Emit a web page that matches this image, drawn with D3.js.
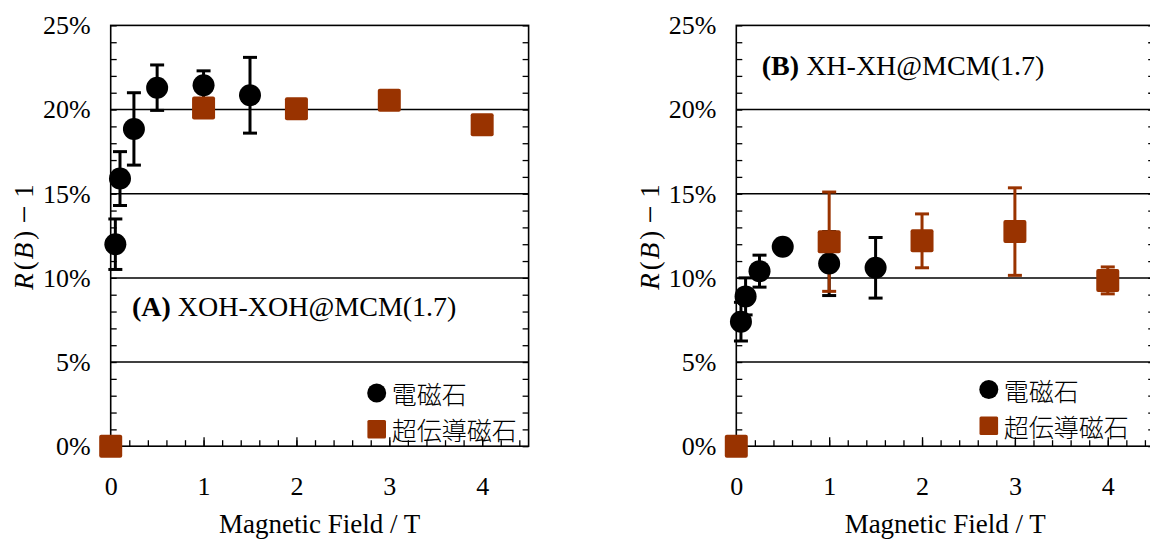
<!DOCTYPE html>
<html>
<head>
<meta charset="utf-8">
<script src="https://cdn.jsdelivr.net/npm/d3@7"></script>
<style>
  html, body { margin: 0; padding: 0; background: #fff; }
  svg { display: block; }
  .serif { font-family: "Liberation Serif", "Times New Roman", serif; }
  .cjk { font-family: "Noto Sans CJK JP", "Noto Sans CJK SC", sans-serif; font-weight: 300; }
</style>
</head>
<body>
<svg id="chart" width="1150" height="539"></svg>
<script>
// Magnetic field values (T) for each magnet type
const electroField = [0.05, 0.1, 0.25, 0.5, 1, 1.5];
const superField   = [0, 1, 2, 3, 4];

// Panel A: XOH-XOH@MCM(1.7) — R(B) − 1 in percent, with error half-widths
const aElectroValue = [12.0, 15.9, 18.85, 21.3, 21.45, 20.85];
const aElectroError = [1.5, 1.6, 2.15, 1.35, 0.85, 2.25];
const aSuperValue   = [0, 20.1, 20.05, 20.55, 19.1];
const aSuperError   = [0, 0, 0, 0, 0];

// Panel B: XH-XH@MCM(1.7)
const bElectroValue = [7.4, 8.9, 10.4, 11.85, 10.85, 10.6];
const bElectroError = [1.15, 1.1, 0.95, 0, 1.9, 1.8];
const bSuperValue   = [0, 12.15, 12.2, 12.75, 9.85];
const bSuperError   = [0, 2.95, 1.6, 2.6, 0.8];

// Axis ticks and labels
const fieldTicks = [0, 1, 2, 3, 4];
const percentTicks = [0, 5, 10, 15, 20, 25];
const gridValues = [5, 10, 15, 20];
const panelTags = ["(A)", "(B)"];
const panelNames = ["XOH-XOH@MCM(1.7)", "XH-XH@MCM(1.7)"];
const legendNames = ["電磁石", "超伝導磁石"];
const xTitle = "Magnetic Field / T";

const electroColor = "#000000";
const superColor = "#993300";

const svg = d3.select("#chart");

const plotW = 417.9, plotH = 420.8;
const x = d3.scaleLinear().domain([0, 4.5]).range([0, plotW]);
const y = d3.scaleLinear().domain([0, 25]).range([plotH, 0]);

function zip(xs, vs, es) {
  return xs.map((b, i) => ({ b, v: vs[i], e: es[i] }));
}

const panels = [
  {
    left: 110.7, top: 25.4,
    electro: zip(electroField, aElectroValue, aElectroError),
    superc: zip(superField, aSuperValue, aSuperError),
    tag: panelTags[0], name: panelNames[0],
    note: [21.3, 290.6],
    legend: [266, 367.6],
    yTitleX: -87.2
  },
  {
    left: 736.3, top: 25.4,
    electro: zip(electroField, bElectroValue, bElectroError),
    superc: zip(superField, bSuperValue, bSuperError),
    tag: panelTags[1], name: panelNames[1],
    note: [25.5, 49.6],
    legend: [252.5, 364.1],
    yTitleX: -86.3
  }
];

function drawPanel(p) {
  const g = svg.append("g").attr("transform", `translate(${p.left},${p.top})`);

  // horizontal grid lines
  g.append("g").selectAll("line").data(gridValues).join("line")
    .attr("x1", 0).attr("x2", plotW)
    .attr("y1", d => y(d)).attr("y2", d => y(d))
    .attr("stroke", "#000").attr("stroke-width", 1.5);

  // frame: top, right, bottom, left
  g.append("rect").attr("x", 0).attr("y", 0).attr("width", plotW).attr("height", plotH)
    .attr("fill", "none").attr("stroke", "#000").attr("stroke-width", 1.6);

  // minor ticks pointing inwards
  const minorY = d3.range(0, 25.01, 1);
  g.append("g").call(d3.axisRight(y).tickValues(minorY).tickSize(6).tickFormat(""))
    .call(a => a.select(".domain").remove())
    .selectAll("line").attr("stroke-width", 1.3);
  g.append("g").attr("transform", `translate(${plotW},0)`)
    .call(d3.axisLeft(y).tickValues(minorY).tickSize(6).tickFormat(""))
    .call(a => a.select(".domain").remove())
    .selectAll("line").attr("stroke-width", 1.3);
  g.append("g").attr("transform", `translate(0,${plotH})`)
    .call(d3.axisTop(x).tickValues(d3.range(0, 4.51, 0.2)).tickSize(6).tickFormat(""))
    .call(a => a.select(".domain").remove())
    .selectAll("line").attr("stroke-width", 1.3);
  g.append("g").attr("transform", `translate(0,${plotH})`)
    .call(d3.axisTop(x).tickValues(fieldTicks).tickSize(9).tickFormat(""))
    .call(a => a.select(".domain").remove())
    .selectAll("line").attr("stroke-width", 1.3);

  // tick labels
  const yAx = g.append("g")
    .call(d3.axisLeft(y).tickValues(percentTicks).tickSize(0).tickPadding(20).tickFormat(d => d + "%"));
  yAx.select(".domain").remove();
  yAx.selectAll("text").attr("class", "serif").attr("font-size", 26).attr("fill", "#000")
    .attr("font-family", null);

  const xAx = g.append("g").attr("transform", `translate(0,${plotH})`)
    .call(d3.axisBottom(x).tickValues(fieldTicks).tickSize(0).tickPadding(30).tickFormat(d3.format("d")));
  xAx.select(".domain").remove();
  xAx.selectAll("text").attr("class", "serif").attr("font-size", 26).attr("fill", "#000")
    .attr("font-family", null);

  // axis titles
  g.append("text").attr("class", "serif")
    .attr("x", plotW / 2).attr("y", 508).attr("text-anchor", "middle")
    .attr("font-size", 27).text(xTitle);

  const yt = g.append("text").attr("class", "serif")
    .attr("transform", `translate(${p.yTitleX},${211.5}) rotate(-90)`)
    .attr("text-anchor", "middle").attr("dominant-baseline", "central")
    .attr("font-size", 27);
  yt.append("tspan").attr("font-style", "italic").text("R");
  yt.append("tspan").attr("dx", 3).text("(");
  yt.append("tspan").attr("dx", 2).attr("font-style", "italic").text("B");
  yt.append("tspan").attr("dx", 3).text(")");
  yt.append("tspan").attr("dx", 7).attr("font-size", 32).text("−");
  yt.append("tspan").attr("dx", 8).text("1");

  // error bars
  const cap = 7;
  function errorBars(data, color) {
    const eb = g.append("g").attr("stroke", color).attr("stroke-width", 3).attr("fill", "none");
    const rows = data.filter(d => d.e > 0);
    eb.selectAll(".v").data(rows).join("line")
      .attr("x1", d => x(d.b)).attr("x2", d => x(d.b))
      .attr("y1", d => y(d.v - d.e)).attr("y2", d => y(d.v + d.e));
    eb.selectAll(".t").data(rows).join("line")
      .attr("x1", d => x(d.b) - cap).attr("x2", d => x(d.b) + cap)
      .attr("y1", d => y(d.v + d.e)).attr("y2", d => y(d.v + d.e));
    eb.selectAll(".bt").data(rows).join("line")
      .attr("x1", d => x(d.b) - cap).attr("x2", d => x(d.b) + cap)
      .attr("y1", d => y(d.v - d.e)).attr("y2", d => y(d.v - d.e));
  }
  errorBars(p.electro, electroColor);
  errorBars(p.superc, superColor);

  // markers
  g.append("g").selectAll("circle").data(p.electro).join("circle")
    .attr("cx", d => x(d.b)).attr("cy", d => y(d.v)).attr("r", 11)
    .attr("fill", electroColor);
  const sq = 23;
  g.append("g").selectAll("rect").data(p.superc).join("rect")
    .attr("x", d => x(d.b) - sq / 2).attr("y", d => y(d.v) - sq / 2)
    .attr("width", sq).attr("height", sq).attr("rx", 2)
    .attr("fill", superColor);

  // panel caption
  const cap1 = g.append("text").attr("class", "serif")
    .attr("x", p.note[0]).attr("y", p.note[1]).attr("font-size", 28);
  cap1.append("tspan").attr("font-weight", "bold").text(p.tag);
  cap1.append("tspan").text(" " + p.name);

  // legend
  const lg = g.append("g").attr("transform", `translate(${p.legend[0]},${p.legend[1]})`);
  lg.append("circle").attr("cx", 0).attr("cy", 0).attr("r", 9.5).attr("fill", electroColor);
  lg.append("rect").attr("x", -9.3).attr("y", 36.3 - 9.3).attr("width", 18.6).attr("height", 18.6)
    .attr("rx", 1.5).attr("fill", superColor);
  lg.append("text").attr("class", "cjk").attr("x", 15).attr("y", 0)
    .attr("dominant-baseline", "central").attr("font-size", 25).text(legendNames[0]);
  lg.append("text").attr("class", "cjk").attr("x", 15).attr("y", 36.3)
    .attr("dominant-baseline", "central").attr("font-size", 25).text(legendNames[1]);
}

panels.forEach(drawPanel);
</script>
</body>
</html>
